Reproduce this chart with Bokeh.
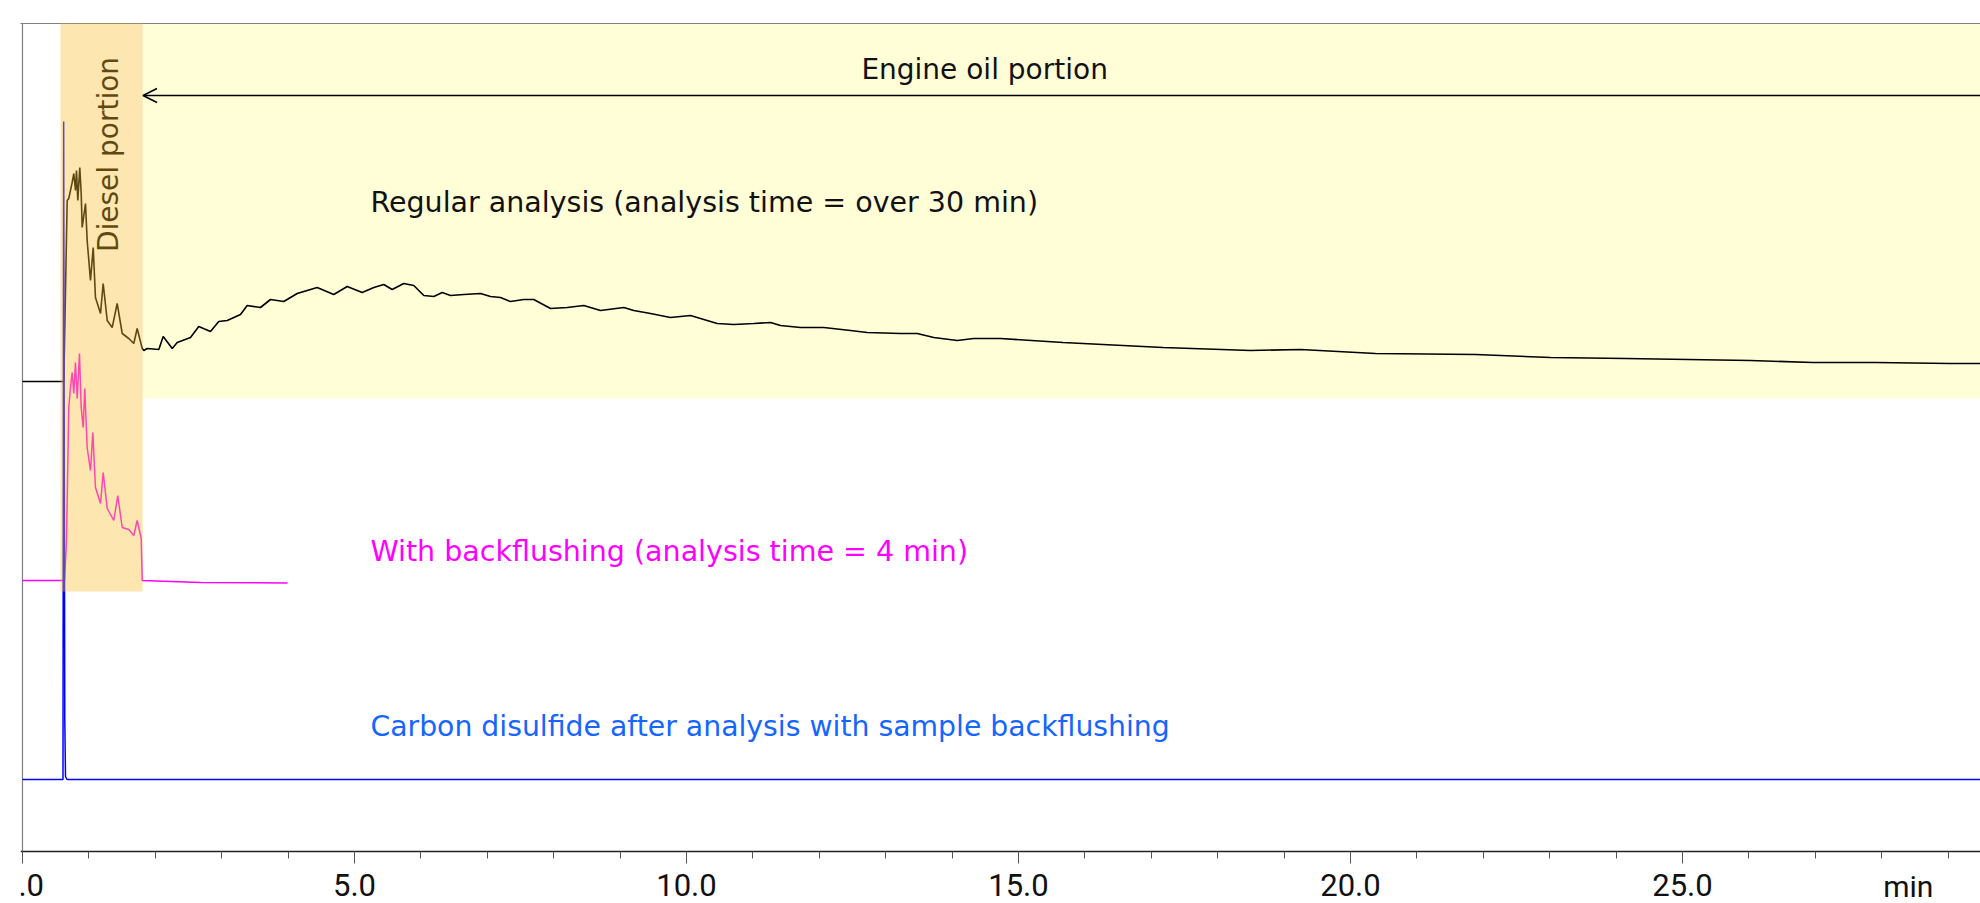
import math
from bokeh.plotting import figure
from bokeh.models import Range1d, FixedTicker, Arrow, OpenHead
from bokeh.core.properties import value
from bokeh.embed import file_html
from bokeh.resources import INLINE

# ---------------- data ----------------
# Regular analysis (black) : time [min], signal relative to its baseline
reg_t = [0.0, 0.61, 0.622, 0.673, 0.697, 0.748, 0.773, 0.798, 0.813, 0.833, 0.863, 0.884, 0.899,
         0.949, 0.974, 1.024, 1.065, 1.099, 1.175, 1.215, 1.276, 1.351, 1.426, 1.502, 1.601, 1.676,
         1.727, 1.803, 1.827, 1.878, 2.053, 2.119, 2.255, 2.330, 2.530, 2.655, 2.831, 2.956, 3.083,
         3.283, 3.384, 3.584, 3.735, 3.935, 4.137, 4.438, 4.688, 4.890, 5.116, 5.291, 5.441, 5.568,
         5.742, 5.893, 6.044, 6.194, 6.321, 6.446, 6.646, 6.898, 7.048, 7.199, 7.349, 7.550, 7.700,
         7.952, 8.203, 8.453, 8.705, 9.056, 9.206, 9.458, 9.759, 10.060, 10.211, 10.462, 10.712,
         11.014, 11.265, 11.416, 11.717, 12.068, 12.470, 12.721, 13.223, 13.474, 13.724, 14.077,
         14.327, 14.729, 15.670, 17.176, 18.494, 19.247, 20.377, 21.883, 23.012, 24.142, 26.024,
         26.965, 27.907, 29.036, 29.49]
reg_y = [0, 0, 0, 181, 183, 199, 208, 191, 211, 181, 214, 188, 154,
         178, 141, 101, 134, 84, 68, 98, 61, 54, 78, 48, 43, 38,
         53, 33, 31, 33, 32, 45, 33, 39, 44, 55, 50, 60, 61,
         67, 76, 74, 82, 80, 88, 94, 87, 95, 89, 94, 97, 92,
         98, 96, 86, 85, 89, 86, 87, 88, 85, 84, 80, 82, 82,
         73, 74, 76, 71, 74, 71, 68, 64, 66, 63, 58, 57,
         58, 59, 56, 54, 54, 51, 49, 48, 48, 44, 41,
         43, 43, 39, 34, 31, 32, 28, 27, 24, 23, 21,
         19, 19, 18, 18]

# With backflushing (magenta)
bf_t = [0.0, 0.613, 0.633, 0.663, 0.697, 0.723, 0.748, 0.773, 0.798, 0.824, 0.858, 0.884, 0.914,
        0.938, 0.974, 1.024, 1.059, 1.099, 1.175, 1.215, 1.276, 1.375, 1.435, 1.502, 1.601, 1.676,
        1.727, 1.788, 1.803, 2.681, 3.991]
bf_y = [0, 0, 0, 40, 173, 193, 208, 187, 218, 182, 227, 173, 153,
        192, 133, 110, 148, 93, 77, 108, 72, 60, 85, 53, 51, 45,
        60, 42, 0, -2, -2.5]

# Carbon disulfide after analysis with sample backflushing (blue)
cs_t = [0.0, 0.61, 0.62, 0.637, 0.648, 0.67, 29.49]
cs_y = [0, 0, 658, 60, 3, 0, 0]

# vertical offsets of the three chromatograms
offsets = {"regular": 470, "backflush": 271, "cs2": 72}

# regions
diesel_range = (0.572, 1.81)
oil_start = 1.81

major_ticks = [0, 5, 10, 15, 20, 25]
minor_ticks = list(range(0, 30))
tick_labels = {0: "0.0", 5: "5.0", 10: "10.0", 15: "15.0", 20: "20.0", 25: "25.0"}
unit_label = "min"

# ---------------- figure ----------------
p = figure(width=1980, height=903, output_backend="svg", toolbar_location=None,
           x_range=Range1d(-0.030, 29.488), y_range=Range1d(-52, 830),
           min_border_left=20, min_border_right=0, min_border_top=21, min_border_bottom=0)
p.outline_line_color = None
p.xgrid.visible = False
p.ygrid.visible = False
p.yaxis.visible = False
p.background_fill_color = "white"
p.border_fill_color = "white"

TICK_FONT = "Roboto"
ax = p.xaxis[0]
ax.fixed_location = 0
ax.ticker = FixedTicker(ticks=major_ticks, minor_ticks=minor_ticks)
ax.major_label_overrides = tick_labels
ax.axis_line_color = "#222222"
ax.axis_line_width = 1.3
ax.major_tick_line_color = "#555555"
ax.minor_tick_line_color = "#555555"
ax.major_tick_in = 0
ax.minor_tick_in = 0
ax.major_tick_out = 12
ax.minor_tick_out = 7
ax.major_label_standoff = 10
ax.major_label_text_font = TICK_FONT
ax.major_label_text_font_size = "31px"
ax.major_label_text_color = "#111111"

# engine oil band (yellow)
p.quad(left=[oil_start], right=[29.7], bottom=[453], top=[828], fill_color="#FFFED6",
       line_color=None)

# frame lines
p.segment(x0=[-0.05], y0=[828], x1=[29.7], y1=[828], line_color="#808080", line_width=1.2)
p.segment(x0=[0], y0=[0], x1=[0], y1=[828], line_color="#808080", line_width=1.2)

# chromatograms
p.line(reg_t, [v + offsets["regular"] for v in reg_y], line_color="black", line_width=1.6)
p.line(bf_t, [v + offsets["backflush"] for v in bf_y], line_color="#FF00FF", line_width=1.5)
p.line(cs_t, [v + offsets["cs2"] for v in cs_y], line_color="#0000FF", line_width=1.5)

FONT = value("DejaVu Sans")
p.text(x=[1.30], y=[697], text=["Diesel portion"], angle=math.pi / 2, text_align="center",
       text_baseline="middle", text_font=FONT, text_font_size="28px", text_color="black")

# diesel band (translucent orange over the traces)
p.quad(left=[diesel_range[0]], right=[diesel_range[1]], bottom=[260], top=[828],
       fill_color="#FABE2D", fill_alpha=0.38, line_color=None)

# texts
p.text(x=[14.49], y=[782], text=["Engine oil portion"], text_align="center", text_baseline="middle",
       text_font=FONT, text_font_size="28px", text_color="#111111")
p.text(x=[5.24], y=[649], text=["Regular analysis (analysis time = over 30 min)"], text_align="left",
       text_baseline="middle", text_font=FONT, text_font_size="28.5px", text_color="#111111")
p.text(x=[5.24], y=[300], text=["With backflushing (analysis time = 4 min)"], text_align="left",
       text_baseline="middle", text_font=FONT, text_font_size="28.5px", text_color="#FF00FF")
p.text(x=[5.24], y=[125], text=["Carbon disulfide after analysis with sample backflushing"],
       text_align="left", text_baseline="middle", text_font=FONT, text_font_size="28.3px",
       text_color="#1565FF")

p.add_layout(Arrow(end=OpenHead(size=14, line_width=1.6, line_color="black"),
                   x_start=29.6, y_start=756, x_end=1.815, y_end=756,
                   line_width=1.6, line_color="black"))

p.text(x=[28.4], y=[-35], text=[unit_label], text_align="center", text_baseline="middle",
       text_font=value(TICK_FONT), text_font_size="30px", text_color="#111111")

open("out.html", "w").write(file_html(p, INLINE))
